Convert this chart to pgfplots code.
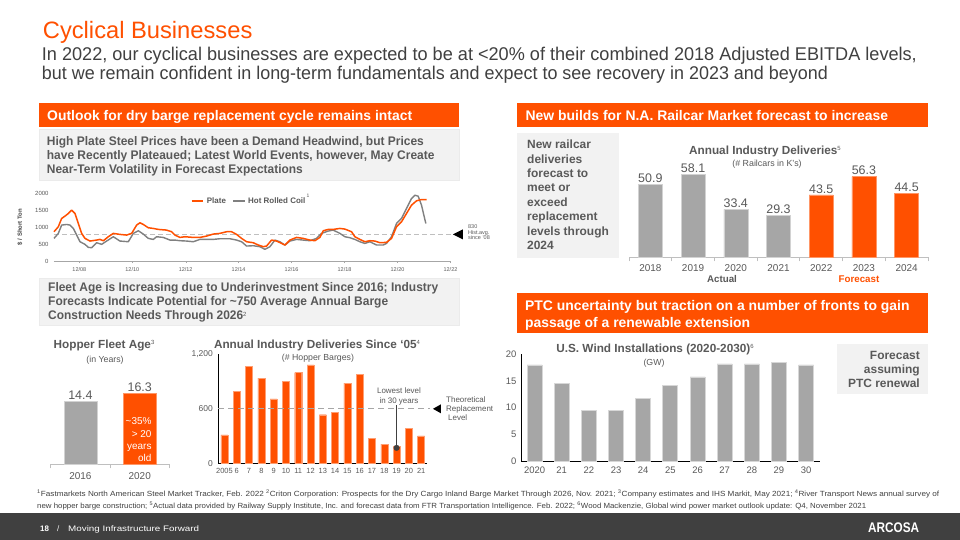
\documentclass[border=0pt]{standalone}
\usepackage{pgfplots}
\pgfplotsset{compat=1.18}
\usepackage{fontspec}
\setmainfont{Liberation Sans}
\usepackage{graphicx}

\definecolor{aorange}{RGB}{255,80,0}
\definecolor{bgray}{RGB}{166,166,166}
\definecolor{lgray}{RGB}{128,128,128}
\definecolor{tgray}{RGB}{89,89,89}
\definecolor{dgray}{RGB}{64,64,64}
\definecolor{lbox}{RGB}{242,242,242}

\newcommand\fs[1]{\fontsize{#1}{#1}\selectfont}
\newcommand\fitw[2]{\sbox0{#2}\pgfmathsetmacro\fitfac{#1/\wd0}\scalebox{\fitfac}[1]{\usebox0}}

\pgfplotsset{every axis/.append style={/pgf/number format/assume math mode=true}}

\begin{document}
\begin{tikzpicture}
\path[use as bounding box] (0,0) rectangle (960bp,-540bp);
\fill[white] (0,0) rectangle (960bp,-540bp);

%================ Steel price chart
\begin{axis}[at={(54bp,-261bp)}, anchor=south west, scale only axis,
  width=396.5bp, height=67.5bp, xmin=162, xmax=1352, ymin=0, ymax=2000,
  axis x line*=bottom, axis y line*=left,
  y axis line style={draw=none}, x axis line style={draw=black!35, line width=0.8bp, -},
  xtick={238,397,557,716,875,1034,1193,1352},
  xticklabels={12/08,12/10,12/12,12/14,12/16,12/18,12/20,12/22},
  ytick={0,500,1000,1500,2000}, /pgf/number format/1000 sep={},
  major tick length=2bp, tick align=outside, xtick style={draw=black!35}, ytick style={draw=none},
  xticklabel style={font=\fs{5.5}, text=tgray, yshift=-1bp},
  yticklabel style={font=\fs{6}, text=tgray},
  clip=false]
\addplot[draw=black!25, line width=1.3bp, dash pattern=on 5bp off 3bp] coordinates {(162,790)(1356,790)};
\addplot[draw=lgray, line width=1.4bp, line join=round] coordinates {
(162,670)(175,818)(185,1064)(200,1083)(210,1064)(220,965)(230,768)(240,571)(255,493)(265,404)(275,394)(290,542)(305,493)(320,591)(340,719)(360,591)(385,571)(400,818)(415,896)(430,798)(445,670)(460,640)(470,719)(490,699)(510,620)(525,620)(540,601)(560,591)(580,571)(600,640)(620,640)(640,640)(660,660)(690,660)(710,620)(725,571)(740,443)(760,453)(780,424)(795,345)(810,424)(825,620)(840,571)(855,473)(870,591)(890,640)(910,620)(930,601)(950,670)(965,818)(985,887)(1000,916)(1020,818)(1035,719)(1050,690)(1065,640)(1080,571)(1095,522)(1110,571)(1130,473)(1150,473)(1160,522)(1175,719)(1190,1113)(1205,1261)(1220,1556)(1235,1852)(1245,1950)(1255,1920)(1265,1655)(1272,1359)(1278,1113)};
\addplot[draw=aorange, line width=1.5bp, line join=round] coordinates {
(162,867)(175,1015)(185,1261)(195,1330)(205,1408)(215,1507)(225,1408)(235,1113)(245,818)(255,670)(270,591)(290,620)(300,640)(310,600)(325,719)(340,818)(360,788)(380,768)(395,818)(410,1064)(420,1133)(430,1083)(445,985)(460,965)(475,936)(500,916)(515,867)(525,768)(540,699)(555,719)(580,699)(600,699)(620,739)(640,798)(660,818)(680,867)(695,867)(710,788)(725,670)(740,571)(760,542)(775,473)(790,424)(800,443)(815,620)(830,591)(845,522)(855,473)(870,620)(890,699)(910,670)(930,620)(945,601)(960,699)(970,896)(985,936)(1000,936)(1020,965)(1035,946)(1055,867)(1065,719)(1080,640)(1095,571)(1110,601)(1125,591)(1140,542)(1160,552)(1175,670)(1190,1015)(1205,1162)(1220,1408)(1235,1655)(1250,1783)(1265,1822)(1280,1822)};
\fill[black] (axis cs:1359,790) -- ++(10bp,5bp) -- ++(0bp,-10bp) -- cycle;
\end{axis}

%================ Railcar deliveries
\begin{axis}[at={(629bp,-257.3bp)}, anchor=south west, scale only axis,
  width=299bp, height=86bp, xmin=-0.5, xmax=6.5, ymin=0, ymax=60,
  axis x line*=bottom, axis y line=none,
  x axis line style={draw=black!25, line width=1bp, -},
  xtick={0,...,6}, xticklabels={2018,2019,2020,2021,2022,2023,2024},
  major tick length=0pt, minor xtick={-0.5,0.5,1.5,2.5,3.5,4.5,5.5,6.5},
  minor tick length=4bp, tick align=outside, minor tick style={draw=black!25, line width=0.8bp},
  xticklabel style={font=\fs{10}, text=tgray, yshift=-3.5bp},
  nodes near coords, every node near coord/.append style={font=\fs{12.5}, text=tgray, inner sep=1.5bp},
  /pgf/number format/fixed, /pgf/number format/fixed zerofill, /pgf/number format/precision=1,
  clip=false]
\addplot[ybar, bar width=24bp, bar shift=0pt, fill=bgray, draw=bgray!50!white] coordinates {(0,50.9)(1,58.1)(2,33.4)(3,29.3)};
\addplot[ybar, bar width=24bp, bar shift=0pt, fill=aorange, draw=aorange!60!white] coordinates {(4,43.5)(5,56.3)(6,44.5)};
\end{axis}

%================ Hopper fleet age
\begin{axis}[at={(50.7bp,-464.3bp)}, anchor=south west, scale only axis,
  width=118.7bp, height=73.95bp, xmin=-0.5, xmax=1.5, ymin=0, ymax=17,
  axis x line*=bottom, axis y line=none,
  x axis line style={draw=black!25, line width=1bp, -},
  xtick={0,1}, xticklabels={2016,2020},
  major tick length=0pt, minor xtick={-0.5,0.5,1.5},
  minor tick length=4bp, tick align=outside, minor tick style={draw=black!25, line width=0.8bp},
  xticklabel style={font=\fs{10}, text=tgray, yshift=-4.5bp},
  nodes near coords, every node near coord/.append style={font=\fs{12.5}, text=tgray, inner sep=1.5bp},
  /pgf/number format/fixed, /pgf/number format/fixed zerofill, /pgf/number format/precision=1,
  clip=false]
\addplot[ybar, bar width=32.7bp, bar shift=0pt, fill=bgray, draw=bgray!50!white] coordinates {(0,14.4)};
\addplot[ybar, bar width=32.7bp, bar shift=0pt, fill=aorange, draw=aorange!60!white] coordinates {(1,16.3)};
\end{axis}

%================ Barge deliveries (x = 0 for 2005 ... 16 for 2021)
\begin{axis}[at={(218.3bp,-463.3bp)}, anchor=south west, scale only axis,
  width=209bp, height=109bp, xmin=-0.5, xmax=16.5, ymin=0, ymax=1200,
  axis lines*=left, axis line style={draw=black, line width=1bp, -},
  xtick={0,...,16}, xticklabels={2005,6,7,8,9,10,11,12,13,14,15,16,17,18,19,20,21},
  ytick={0,600,1200}, yticklabels={0,600,{1,200}},
  major tick length=0pt,
  xticklabel style={font=\fs{7.5}, text=tgray, yshift=-1.5bp},
  yticklabel style={font=\fs{8.5}, text=tgray, xshift=-2bp},
  clip=false]
\addplot[ybar, bar width=7bp, bar shift=0pt, fill=aorange, draw=aorange!55!white, line width=0.4bp] coordinates {
(0,312)(1,793)(2,1068)(3,939)(4,708)(5,903)(6,998)(7,1083)(8,535)(9,561)(10,884)(11,980)(12,275)(13,212)(14,183)(15,385)(16,301)};
\addplot[draw=black!35, line width=1.3bp, dash pattern=on 6bp off 4bp] coordinates {(-0.5,600)(16.7,600)};
\addplot[draw=dgray, line width=1bp] coordinates {(14,170)(14,642)};
\addplot[only marks, mark=*, mark size=2.8, mark options={fill=dgray, draw=dgray}] coordinates {(14,170)};
\fill[black] (axis cs:16.96,600) -- ++(8bp,4.5bp) -- ++(0bp,-9bp) -- cycle;
\end{axis}

%================ Wind installations (x = 0 for 2020 ... 10 for 2030)
\begin{axis}[at={(521bp,-461bp)}, anchor=south west, scale only axis,
  width=298.7bp, height=106.7bp, xmin=-0.5, xmax=10.5, ymin=0, ymax=20,
  axis lines*=left, axis line style={draw=black, line width=1bp, -},
  xtick={0,...,10}, xticklabels={2020,21,22,23,24,25,26,27,28,29,30},
  ytick={0,5,10,15,20},
  major tick length=0pt,
  xticklabel style={font=\fs{9.5}, text=tgray, yshift=-2.4bp},
  yticklabel style={font=\fs{9.5}, text=tgray, xshift=-1bp},
  clip=false]
\addplot[ybar, bar width=15bp, bar shift=0pt, fill=bgray, draw=bgray!45!white, line width=0.8bp] coordinates {
(0,18.0)(1,14.5)(2,9.5)(3,9.5)(4,11.75)(5,14.2)(6,15.75)(7,18.2)(8,18.2)(9,18.5)(10,18.0)};
\end{axis}

\begin{scope}[x=1bp, y=-1bp]
% title and subtitle
\node[anchor=base west, inner sep=0, text=aorange] at (42.7,38.3) {\fs{23.8}Cyclical Businesses};
\node[anchor=base west, inner sep=0, text=dgray] at (41.7,60) {\fitw{875bp}{\fs{18.5}In 2022, our cyclical businesses are expected to be at <20\% of their combined 2018 Adjusted EBITDA levels,}};
\node[anchor=base west, inner sep=0, text=dgray] at (41.7,79) {\fitw{786bp}{\fs{18.5}but we remain confident in long-term fundamentals and expect to see recovery in 2023 and beyond}};

% left header
\fill[aorange] (38.7,103) rectangle (458.7,127);
\node[anchor=base west, inner sep=0, text=white] at (47,120) {\fitw{365bp}{\bfseries\fs{14}Outlook for dry barge replacement cycle remains intact}};
\filldraw[fill=lbox, draw=black!8] (38.7,129) rectangle (458.7,180);
\node[anchor=base west, inner sep=0, text=tgray] at (46.7,145.2) {\fitw{377bp}{\bfseries\fs{12.5}High Plate Steel Prices have been a Demand Headwind, but Prices}};
\node[anchor=base west, inner sep=0, text=tgray] at (46.7,159.5) {\fitw{387.6bp}{\bfseries\fs{12.5}have Recently Plateaued; Latest World Events, however, May Create}};
\node[anchor=base west, inner sep=0, text=tgray] at (46.7,173.8) {\fitw{256bp}{\bfseries\fs{12.5}Near-Term Volatility in Forecast Expectations}};

% steel chart annotations
\node[rotate=90, inner sep=0, text=dgray] at (20,227) {\bfseries\fs{6}\$ / Short Ton};
\draw[aorange, line width=1.6bp] (191.7,200.7) -- (203.3,200.7);
\node[anchor=base west, inner sep=0, text=tgray] at (206.7,203.5) {\bfseries\fs{8}Plate};
\draw[lgray, line width=1.6bp] (233,200.7) -- (245,200.7);
\node[anchor=base west, inner sep=0, text=tgray] at (248,203.5) {\bfseries\fs{8}Hot Rolled Coil};
\node[anchor=base west, inner sep=0, text=tgray] at (306.5,197) {\fs{5}1};
\node[anchor=base west, inner sep=0, text=tgray] at (468,228.5) {\fs{5.5}830};
\node[anchor=base west, inner sep=0, text=tgray] at (468,234.2) {\fs{5.5}Hist.avg.};
\node[anchor=base west, inner sep=0, text=tgray] at (468,239.9) {\fs{5.5}since ’08};

% fleet age box
\filldraw[fill=lbox, draw=black!8] (38.7,278.3) rectangle (458.7,325.5);
\node[anchor=base west, inner sep=0, text=tgray] at (48,291.2) {\fitw{390bp}{\bfseries\fs{12.5}Fleet Age is Increasing due to Underinvestment Since 2016; Industry}};
\node[anchor=base west, inner sep=0, text=tgray] at (48,305.5) {\fitw{340bp}{\bfseries\fs{12.5}Forecasts Indicate Potential for \textasciitilde750 Average Annual Barge}};
\node[anchor=base west, inner sep=0, text=tgray] at (48,319.5) {\fitw{195bp}{\bfseries\fs{12.5}Construction Needs Through 2026}\raisebox{3.5bp}{\fs{6}2}};

% hopper fleet age titles
\node[anchor=base, inner sep=0, text=tgray] at (104,348.3) {\bfseries\fs{11.8}Hopper Fleet Age\raisebox{4bp}{\mdseries\fs{6}3}};
\node[anchor=base, inner sep=0, text=tgray] at (105,362.7) {\fs{8.8}(in Years)};
\node[anchor=base east, inner sep=0, text=white] at (151.7,424.5) {\fs{10}\textasciitilde35\%};
\node[anchor=base east, inner sep=0, text=white] at (151.7,437.1) {\fs{10}> 20};
\node[anchor=base east, inner sep=0, text=white] at (151.7,449.5) {\fs{10}years};
\node[anchor=base east, inner sep=0, text=white] at (151.7,461.5) {\fs{10}old};

% barge titles and notes
\node[anchor=base, inner sep=0, text=tgray] at (317,348.3) {\bfseries\fs{11.8}Annual Industry Deliveries Since ‘05\raisebox{4bp}{\mdseries\fs{6}4}};
\node[anchor=base, inner sep=0, text=tgray] at (318,360.7) {\fs{8.8}(\# Hopper Barges)};
\node[anchor=base, inner sep=0, text=tgray] at (399,393.8) {\fs{8}Lowest level};
\node[anchor=base, inner sep=0, text=tgray] at (399,403) {\fs{8}in 30 years};
\node[anchor=base west, inner sep=0, text=tgray] at (446,402.7) {\fs{8}Theoretical};
\node[anchor=base west, inner sep=0, text=tgray] at (446,411.7) {\fs{8}Replacement};
\node[anchor=base west, inner sep=0, text=tgray] at (448,420.4) {\fs{8}Level};

% right header
\fill[aorange] (517,103) rectangle (927.7,127);
\node[anchor=base west, inner sep=0, text=white] at (525.4,120) {\fitw{362.6bp}{\bfseries\fs{14}New builds for N.A. Railcar Market forecast to increase}};
\fill[lbox] (517,133.3) rectangle (619,257.5);
\foreach \t [count=\i from 0] in {New railcar,deliveries,forecast to,meet or,exceed,replacement,levels through,2024}
  \node[anchor=base west, inner sep=0, text=tgray] at (527,148.7+14.4*\i) {\bfseries\fs{12}\t};
\node[anchor=base, inner sep=0, text=tgray] at (765,154) {\bfseries\fs{11.8}Annual Industry Deliveries\raisebox{4bp}{\mdseries\fs{6}5}};
\node[anchor=base, inner sep=0, text=tgray] at (767,166.5) {\fs{8.9}(\# Railcars in K’s)};
\node[anchor=base, inner sep=0, text=tgray] at (722,282.4) {\bfseries\fs{9.8}Actual};
\node[anchor=base, inner sep=0, text=aorange] at (859,282.4) {\bfseries\fs{9.8}Forecast};

% PTC header
\fill[aorange] (517.3,292.7) rectangle (927.7,333.3);
\node[anchor=base west, inner sep=0, text=white] at (525,310) {\fitw{384.3bp}{\bfseries\fs{14}PTC uncertainty but traction on a number of fronts to gain}};
\node[anchor=base west, inner sep=0, text=white] at (525,327.3) {\fitw{225bp}{\bfseries\fs{14}passage of a renewable extension}};

% wind titles
\node[anchor=base, inner sep=0, text=tgray] at (655,352.3) {\bfseries\fs{11.8}U.S. Wind Installations (2020-2030)\raisebox{4bp}{\mdseries\fs{6}6}};
\node[anchor=base, inner sep=0, text=tgray] at (654,365) {\fs{8.8}(GW)};
\fill[lbox] (837.3,344) rectangle (927.7,394.3);
\node[anchor=base east, inner sep=0, text=tgray] at (920,359.3) {\bfseries\fs{12}Forecast};
\node[anchor=base east, inner sep=0, text=tgray] at (920,373.5) {\bfseries\fs{12}assuming};
\node[anchor=base east, inner sep=0, text=tgray] at (920,387.7) {\bfseries\fs{12}PTC renewal};

% footnotes
\node[anchor=base west, inner sep=0, text=dgray] at (37,496.7) {\fitw{902bp}{\fs{7.5}\textsuperscript{1}Fastmarkets North American Steel Market Tracker, Feb. 2022 \textsuperscript{2}Criton Corporation: Prospects for the Dry Cargo Inland Barge Market Through 2026, Nov. 2021; \textsuperscript{3}Company estimates and IHS Markit, May 2021; \textsuperscript{4}River Transport News annual survey of}};
\node[anchor=base west, inner sep=0, text=dgray] at (37,508.7) {\fitw{829bp}{\fs{7.5}new hopper barge construction; \textsuperscript{5}Actual data provided by Railway Supply Institute, Inc. and forecast data from FTR Transportation Intelligence. Feb. 2022; \textsuperscript{6}Wood Mackenzie, Global wind power market outlook update: Q4, November 2021}};

% footer
\fill[dgray] (0,513) rectangle (960,540);
\node[anchor=base west, inner sep=0, text=white] at (40,531) {\bfseries\fs{8}18};
\node[anchor=base west, inner sep=0, text=white] at (57,531) {\fs{8}/};
\node[anchor=base west, inner sep=0, text=white] at (68,531) {\fitw{131bp}{\fs{8}Moving Infrastructure Forward}};
\node[anchor=base west, inner sep=0, text=white] at (868,532.5) {\fitw{51bp}{\bfseries\fs{14}ARCOSA}};
\end{scope}
\end{tikzpicture}
\end{document}
